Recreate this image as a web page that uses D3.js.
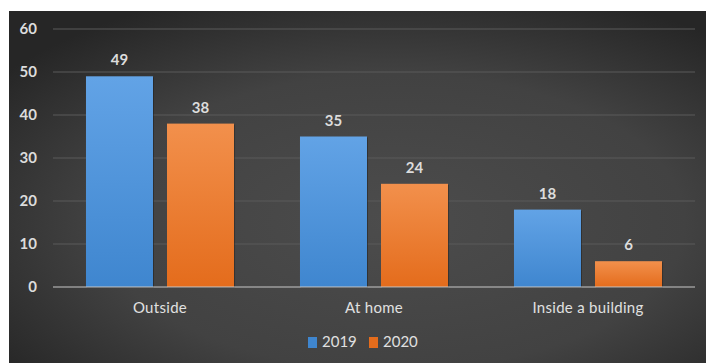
<!DOCTYPE html>
<html>
<head>
<meta charset="utf-8">
<script src="https://cdn.jsdelivr.net/npm/d3@7"></script>
<style>
  body { margin: 0; background: #fff; }
  svg { display: block; }
  text { font-family: Lato, "Open Sans", sans-serif; }
</style>
</head>
<body>
<div id="container"></div>
<script>
const width = 706
const height = 363

// data
const categories = ["Outside", "At home", "Inside a building"]
const seriesNames = ["2019", "2020"]
const values2019 = [49, 35, 18]
const values2020 = [38, 24, 6]
const yTicks = [0, 10, 20, 30, 40, 50, 60]

const colors = { "2019": ["#62a3e6", "#3f86cf"], "2020": ["#f2904c", "#e46c1c"] }

const margin = { left: 53, right: 11, top: 29, bottom: 76 }

const svg = d3.select("#container")
  .append("svg")
  .attr("width", width)
  .attr("height", height)

const defs = svg.append("defs")
const bg = defs.append("radialGradient").attr("id", "bg")
  .attr("cx", "55%").attr("cy", "60%").attr("r", "70%")
bg.append("stop").attr("offset", "0%").attr("stop-color", "#4c4c4c")
bg.append("stop").attr("offset", "60%").attr("stop-color", "#424242")
bg.append("stop").attr("offset", "100%").attr("stop-color", "#262626")

seriesNames.forEach(s => {
  const g = defs.append("linearGradient").attr("id", "g" + s)
    .attr("x1", 0).attr("x2", 0).attr("y1", 0).attr("y2", 1)
  g.append("stop").attr("offset", "0%").attr("stop-color", colors[s][0])
  g.append("stop").attr("offset", "100%").attr("stop-color", colors[s][1])
})

// background panel
svg.append("rect")
  .attr("x", 9).attr("y", 11)
  .attr("width", width - 9).attr("height", height - 11)
  .attr("fill", "url(#bg)")

const x0 = d3.scaleBand()
  .domain(categories)
  .range([margin.left, width - margin.right])

const x1 = d3.scaleBand()
  .domain(seriesNames)
  .range([0, x0.bandwidth()])
  .paddingInner(0.173)
  .paddingOuter(0.407)

const y = d3.scaleLinear()
  .domain([0, 60])
  .range([287, 29])

// gridlines
svg.append("g")
  .selectAll("line")
  .data(yTicks.filter(d => d > 0))
  .join("line")
  .attr("x1", margin.left).attr("x2", width - margin.right)
  .attr("y1", d => y(d)).attr("y2", d => y(d))
  .attr("stroke", "#5a5a5a")
  .attr("stroke-width", 1)

// y labels
const yAxis = d3.axisLeft(y).tickValues(yTicks).tickSize(0).tickPadding(0)
svg.append("g")
  .attr("transform", "translate(37,0)")
  .call(yAxis)
  .call(g => g.select(".domain").remove())
  .selectAll("text")
  .attr("fill", "#dcdcdc")
  .attr("font-size", 15)
  .attr("font-weight", "bold")
  .attr("font-family", "Lato, sans-serif")

const rows = categories.map((c, i) => ({ cat: c, "2019": values2019[i], "2020": values2020[i] }))

const groups = svg.append("g")
  .selectAll("g")
  .data(rows)
  .join("g")
  .attr("transform", d => `translate(${x0(d.cat)},0)`)

const bars = groups.selectAll("g")
  .data(d => seriesNames.map(s => ({ s: s, v: d[s] })))
  .join("g")

bars.append("rect")
  .attr("x", d => x1(d.s) + 1)
  .attr("y", d => y(d.v) + 1)
  .attr("width", x1.bandwidth())
  .attr("height", d => y(0) - y(d.v))
  .attr("fill", "#1e1e1e")
  .attr("opacity", 0.5)

bars.append("rect")
  .attr("x", d => x1(d.s))
  .attr("y", d => y(d.v))
  .attr("width", x1.bandwidth())
  .attr("height", d => y(0) - y(d.v))
  .attr("fill", d => `url(#g${d.s})`)

bars.append("text")
  .attr("x", d => x1(d.s) + x1.bandwidth() / 2)
  .attr("y", d => y(d.v) - 11)
  .attr("text-anchor", "middle")
  .attr("fill", "#dcdcdc")
  .attr("font-size", 15)
  .attr("font-weight", "bold")
  .text(d => d.v)

// zero line
svg.append("line")
  .attr("x1", margin.left).attr("x2", width - margin.right)
  .attr("y1", y(0)).attr("y2", y(0))
  .attr("stroke", "#c8c8c8")
  .attr("stroke-width", 1.2)

// category labels
const xAxis = d3.axisBottom(x0).tickSize(0).tickPadding(0)
svg.append("g")
  .attr("transform", `translate(0,${y(0) + 26})`)
  .call(xAxis)
  .call(g => g.select(".domain").remove())
  .selectAll("text")
  .attr("fill", "#e0e0e0")
  .attr("font-size", 15)
  .attr("letter-spacing", 0.3)
  .attr("font-family", "Lato, sans-serif")
  .attr("dy", 0)

// legend
const legend = svg.append("g").attr("transform", "translate(308,337)")
const legendX = d3.scalePoint().domain(seriesNames).range([0, 61])
const items = legend.selectAll("g")
  .data(seriesNames)
  .join("g")
  .attr("transform", d => `translate(${legendX(d)},0)`)
items.append("rect")
  .attr("width", 9).attr("height", 11)
  .attr("fill", d => colors[d][1])
items.append("text")
  .attr("x", 14).attr("y", 10)
  .attr("fill", "#e0e0e0")
  .attr("font-size", 15)
  .text(d => d)
</script>
</body>
</html>
